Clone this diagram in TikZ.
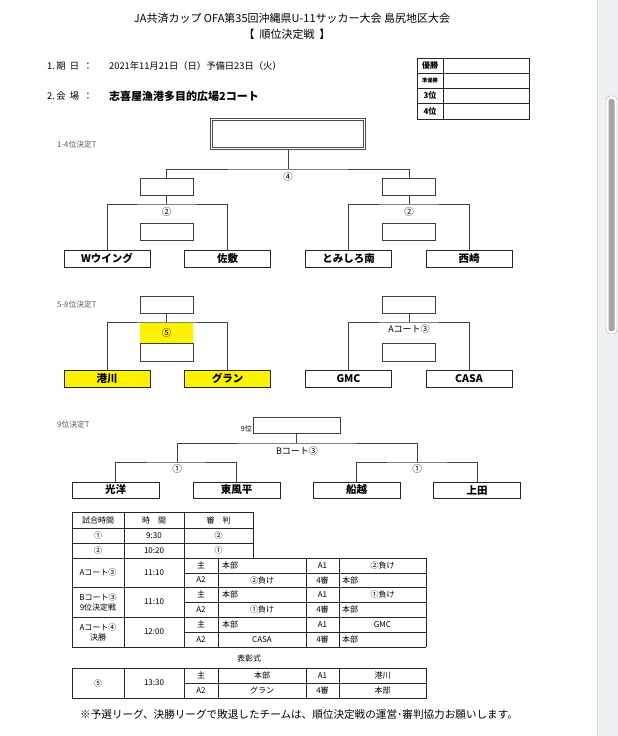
\documentclass[tikz,border=0pt]{standalone}
\usepackage{fontspec}
\setmainfont{Noto Sans CJK JP}
\usepackage{tikz}
\usetikzlibrary{positioning, calc}
\newcommand{\pxfont}[1]{\fontsize{#1}{#1}\selectfont}
\definecolor{scrollbg}{HTML}{EEF1F3}
\tikzset{
  team/.style={rectangle, draw=black!85, line width=1pt, minimum width=86pt, minimum height=17pt, inner sep=0pt, font=\pxfont{10.5}\bfseries},
  slot/.style={rectangle, draw=black!75, line width=0.9pt, minimum width=53pt, minimum height=17pt, inner sep=0pt},
  bline/.style={draw=black!75, line width=0.9pt},
  tline/.style={draw=black!85, line width=0.9pt},
  tlabel/.style={font=\pxfont{7.8}, text=black!65, anchor=west, inner sep=0pt},
  circ/.style={font=\pxfont{9.5}, inner sep=0pt},
  cell/.style={font=\pxfont{8}, inner sep=0pt, align=center},
  cell2/.style={font=\fontsize{8}{10}\selectfont, inner sep=0pt, align=center},
}

\begin{document}
\begin{tikzpicture}[x=1pt, y=-1pt,
  rank/.style={font=\pxfont{8}\bfseries, inner sep=0pt},
  info/.style={font=\pxfont{9.3}, anchor=west, inner sep=0pt}
]
  \useasboundingbox (0,0) rectangle (618,736);
  \fill[white] (0,0) rectangle (618,736);
  % scroll bar
  \fill[scrollbg] (597,0) rectangle (618,736);
  \draw[black!15] (597,0) -- (597,736);
  \draw[black!35, fill=white, rounded corners=4pt] (606,96) rectangle (617,334);
  \fill[black!35, rounded corners=2pt] (608.5,99) rectangle (614.5,331);

  % heading
  \node[font=\pxfont{11}, inner sep=0pt] (title) at (292,18) {JA共済カップ OFA第35回沖縄県U-11サッカー大会 島尻地区大会};
  \node[font=\pxfont{11}, inner sep=0pt] (subtitle) at (287,34) {【\ \ 順位決定戦\ \ 】};
  \node[info] (dateh) at (47,66) {1.\,期\ \ 日\ \ ：};
  \node[info] (date) at (109,66) {2021年11月21日（日）予備日23日（火）};
  \node[info] (placeh) at (47,96) {2.\,会\ \ 場\ \ ：};
  \node[info, font=\pxfont{11}\bfseries] (place) at (109,96) {志喜屋漁港多目的広場2コート};

  % result table
  \draw[tline] (417,58) rectangle (529,119);
  \draw[tline] (443,58) -- (443,119);
  \foreach \yy in {73,88,103} \draw[tline] (417,\yy) -- (529,\yy);
  \node[rank] (r1) at (430,65.5) {優勝};
  \node[rank, font=\pxfont{5.2}\bfseries] (r2) at (430,80.5) {準優勝};
  \node[rank] (r3) at (430,95.5) {3位};
  \node[rank] (r4) at (430,111) {4位};

  % 1-4
  \node[tlabel] (lab14) at (57,145) {1-4位決定T};
  \node[draw=black!70, double=white, double distance=1.2pt, line width=0.9pt, minimum width=153pt, minimum height=29pt] (fin) at (288,134) {};
  \node[slot] (sfL) at (166.5,186.5) {};
  \node[slot] (sfR) at (409,186.5) {};
  \node[slot] (lsL) at (166.5,231.5) {};
  \node[slot] (lsR) at (409,231.5) {};
  \node[team] (tWing) at (107,258.5) {Wウイング};
  \node[team] (tSashiki) at (227.5,258.5) {佐敷};
  \node[team] (tTomi) at (348.5,258.5) {とみしろ南};
  \node[team] (tNishi) at (469,258.5) {西崎};
  \coordinate (j4) at (288,169);
  \coordinate (j2L) at (166.5,204);
  \coordinate (j2R) at (409,204);
  \draw[bline] (fin.south) -- (j4);
  \draw[bline] (sfL.north) |- (j4) -| (sfR.north);
  \draw[bline] (sfL.south) -- (j2L);
  \draw[bline] (sfR.south) -- (j2R);
  \draw[bline] (tWing.north) |- (j2L) -| (tSashiki.north);
  \draw[bline] (tTomi.north) |- (j2R) -| (tNishi.north);
  \node[circ] (m4) at (288,176.5) {④};
  \node[circ] (m2L) at (166.5,211.5) {②};
  \node[circ] (m2R) at (409,211.5) {②};

  % 5-8
  \node[tlabel] (lab58) at (57,305) {5-8位決定T};
  \node[slot] (w5L) at (166.5,304.5) {};
  \node[slot] (w5R) at (409,304.5) {};
  \node[fill=yellow, minimum width=53pt, minimum height=20pt, inner sep=0pt, font=\pxfont{9.5}] (m5) at (166.5,333) {⑤};
  \node[slot, minimum height=18pt] (l5L) at (166.5,352) {};
  \node[slot, minimum height=18pt] (l5R) at (409,352) {};
  \node[team, fill=yellow] (tMina) at (107,378.5) {港川};
  \node[team, fill=yellow] (tGran) at (227.5,378.5) {グラン};
  \node[team] (tGmc) at (348.5,378.5) {GMC};
  \node[team] (tCasa) at (469,378.5) {CASA};
  \coordinate (j5L) at (166.5,322);
  \coordinate (j5R) at (409,322);
  \draw[bline] (w5L.south) -- (j5L);
  \draw[bline] (w5R.south) -- (j5R);
  \draw[bline] (tMina.north) |- (j5L) -| (tGran.north);
  \draw[bline] (tGmc.north) |- (j5R) -| (tCasa.north);
  \node[circ, font=\pxfont{9}] (m3A) at (409,329.5) {Aコート③};

  % 9th
  \node[tlabel] (lab9) at (57,425) {9位決定T};
  \node[slot, minimum width=87pt, minimum height=16pt] (w9) at (296.5,425) {};
  \node[font=\pxfont{7}, anchor=east, inner sep=0pt] (w9lab) at (252,429) {9位};
  \node[team, minimum width=87pt, minimum height=16pt] (tKoyo) at (115.5,490) {光洋};
  \node[team, minimum width=87pt, minimum height=16pt] (tKochi) at (236.5,490) {東風平};
  \node[team, minimum width=87pt, minimum height=16pt] (tFuna) at (356.5,490) {船越};
  \node[team, minimum width=87pt, minimum height=16pt] (tUeda) at (477,490) {上田};
  \coordinate (j3B) at (296.5,443);
  \coordinate (j1L) at (177,462);
  \coordinate (j1R) at (417,462);
  \draw[bline] (w9.south) -- (j3B);
  \draw[bline] (j1L) |- (j3B) -| (j1R);
  \draw[bline] (tKoyo.north) |- (j1L) -| (tKochi.north);
  \draw[bline] (tFuna.north) |- (j1R) -| (tUeda.north);
  \node[circ, font=\pxfont{9}] (m3B) at (297,451) {Bコート③};
  \node[circ] (m1L) at (177,468.5) {①};
  \node[circ] (m1R) at (417,468.5) {①};

  % schedule table
  \foreach \yy in {512,528,543} \draw[tline] (72,\yy) -- (253,\yy);
  \foreach \yy in {558,587,617,647} \draw[tline] (72,\yy) -- (426,\yy);
  \foreach \yy in {573,602,632} \draw[tline] (184,\yy) -- (426,\yy);
  \foreach \xx in {72,124,184} \draw[tline] (\xx,512) -- (\xx,647);
  \draw[tline] (253,512) -- (253,558);
  \foreach \xx in {218,306,339,426} \draw[tline] (\xx,558) -- (\xx,647);
  \node[cell] (hd1) at (98,520) {試合時間};
  \node[cell] (hd2) at (154,520) {時\quad 間};
  \node[cell] (hd3) at (218.5,520) {審\quad 判};
  \node[cell] (g1) at (98,535.5) {①};
  \node[cell] (g1t) at (154,535.5) {9:30};
  \node[cell] (g1r) at (218.5,535.5) {②};
  \node[cell] (g2) at (98,550.5) {②};
  \node[cell] (g2t) at (154,550.5) {10:20};
  \node[cell] (g2r) at (218.5,550.5) {①};
  % A court 3
  \node[cell] (g3) at (98,572.5) {Aコート③};
  \node[cell] (g3t) at (154,572.5) {11:10};
  \node[cell] (g3a) at (201,565.5) {主};
  \node[cell, anchor=west] (g3b) at (222,565.5) {本部};
  \node[cell] (g3c) at (322.5,565.5) {A1};
  \node[cell] (g3d) at (382.5,565.5) {②負け};
  \node[cell] (g3e) at (201,580) {A2};
  \node[cell] (g3f) at (262,580) {②負け};
  \node[cell] (g3g) at (322.5,580) {4審};
  \node[cell, anchor=west] (g3h) at (342,580) {本部};
  % B court 3
  \node[cell2] (g4) at (98,602) {Bコート③\\9位決定戦};
  \node[cell] (g4t) at (154,602) {11:10};
  \node[cell] (g4a) at (201,594.5) {主};
  \node[cell, anchor=west] (g4b) at (222,594.5) {本部};
  \node[cell] (g4c) at (322.5,594.5) {A1};
  \node[cell] (g4d) at (382.5,594.5) {①負け};
  \node[cell] (g4e) at (201,609.5) {A2};
  \node[cell] (g4f) at (262,609.5) {①負け};
  \node[cell] (g4g) at (322.5,609.5) {4審};
  \node[cell, anchor=west] (g4h) at (342,609.5) {本部};
  % A court 4
  \node[cell2] (g5) at (98,632) {Aコート④\\決勝};
  \node[cell] (g5t) at (154,632) {12:00};
  \node[cell] (g5a) at (201,624.5) {主};
  \node[cell, anchor=west] (g5b) at (222,624.5) {本部};
  \node[cell] (g5c) at (322.5,624.5) {A1};
  \node[cell] (g5d) at (382.5,624.5) {GMC};
  \node[cell] (g5e) at (201,639.5) {A2};
  \node[cell] (g5f) at (262,639.5) {CASA};
  \node[cell] (g5g) at (322.5,639.5) {4審};
  \node[cell, anchor=west] (g5h) at (342,639.5) {本部};

  \node[cell] (award) at (249,658) {表彰式};
  \draw[tline] (72,668) rectangle (426,698);
  \draw[tline] (184,683) -- (426,683);
  \foreach \xx in {124,184,218,306,339} \draw[tline] (\xx,668) -- (\xx,698);
  \node[cell] (g6) at (98,683) {⑤};
  \node[cell] (g6t) at (154,683) {13:30};
  \node[cell] (g6a) at (201,675.5) {主};
  \node[cell] (g6b) at (262,675.5) {本部};
  \node[cell] (g6c) at (322.5,675.5) {A1};
  \node[cell] (g6d) at (382.5,675.5) {港川};
  \node[cell] (g6e) at (201,690.5) {A2};
  \node[cell] (g6f) at (262,690.5) {グラン};
  \node[cell] (g6g) at (322.5,690.5) {4審};
  \node[cell] (g6h) at (382.5,690.5) {本部};

  \node[font=\pxfont{10.6}, anchor=west, inner sep=0pt] (note) at (80,714) {※予選リーグ、決勝リーグで敗退したチームは、順位決定戦の運営･審判協力お願いします。};
\end{tikzpicture}
\end{document}
